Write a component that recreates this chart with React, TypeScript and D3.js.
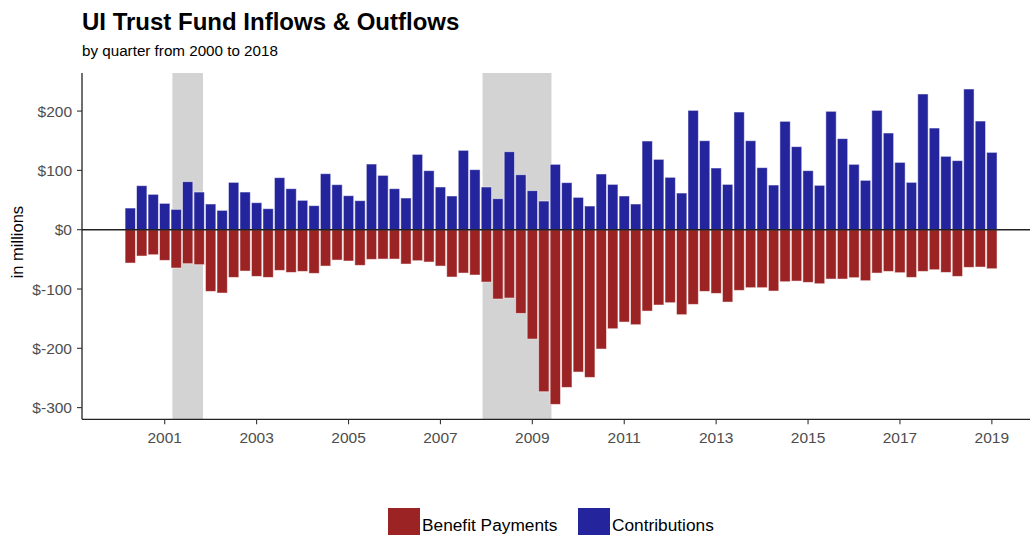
import React from "react";
import * as d3 from "d3";

const startYear = 2000;
const endYear = 2018;

const contributions = [
  36.5, 74.2, 59.6, 44.4, 34.3, 81, 63.5, 43.3, 32.6, 79.8, 63.5, 45.5, 35.4, 87.7, 69.1, 49.5,
  40.5, 94.4, 75.9, 57.3, 48.9, 110.7, 91.6, 69.1, 53.4, 127, 99.5, 72, 56.8, 133.8, 101.2, 72,
  52.3, 131.5, 92.7, 65.8, 48.3, 110.2, 79.3, 54.5, 39.9, 93.9, 76.4, 56.8, 43.3, 149.5, 118.6, 88.3,
  61.8, 201.2, 150, 104, 76.4, 198.4, 150, 104.6, 75.3, 182.7, 140, 99.5, 74.8, 199.6, 153.5, 110.2,
  83.2, 201.2, 163, 113.5, 79.8, 228.8, 171.4, 123.7, 116.4, 237.2, 183.2, 130.4,
];

const benefitPayments = [
  -56.2, -44.4, -42.2, -51.7, -64.6, -57.3, -59, -104, -106.8, -80.4, -69.7, -78.7, -80.4, -68.6, -72, -70.3,
  -73.6, -61.3, -51.2, -52.8, -60.1, -50, -49.5, -49.5, -57.9, -52.3, -54.5, -61.3, -79.8, -73.1, -76.4, -88.3,
  -116.9, -115.2, -141.1, -184.4, -273.2, -294.5, -265.9, -240, -249, -201.2, -167, -155.7, -160.2, -137.2, -127, -123.1,
  -143.3, -125.9, -104, -107.4, -122, -102.3, -97.8, -97.8, -103.4, -87.7, -86.6, -88.8, -91.1, -83.2, -83.2, -80.9,
  -86, -73.1, -70.3, -72.5, -80.4, -70.3, -67.5, -72, -78.7, -63.5, -63, -65.8,
];

// recessions (decimal years): Mar 2001 - Nov 2001, Dec 2007 - Jun 2009
const recessionStarts = [2001 + 2 / 12, 2007 + 11 / 12];
const recessionEnds = [2001 + 10 / 12, 2009 + 5 / 12];

const xTicks = [2001, 2003, 2005, 2007, 2009, 2011, 2013, 2015, 2017, 2019];
const yTicks = [200, 100, 0, -100, -200, -300];

const legendLabels = ["Benefit Payments", "Contributions"];
const RED = "#9b2324";
const BLUE = "#24249c";

// quarter-end positions
const quarters: number[] = [];
for (let y = startYear; y <= endYear; y++) {
  for (let q = 1; q <= 4; q++) quarters.push(y + q * 0.25);
}

const W = 1031;
const H = 535;
const left = 82;
const right = 1030;
const top = 73;
const bottom = 419.3;

export default function App() {
  const x = d3.scaleLinear().domain([1999.2, 2019.83]).range([left, right]);
  const y = d3.scaleLinear().domain([-319.7, 264.2]).range([bottom, top]);
  const bw = (x(2001.25) - x(2001)) * 0.9;
  const font = "Liberation Sans, Arial, sans-serif";

  return (
    <div style={{ position: "absolute", left: 0, top: 0 }}>
      <svg width={W} height={H} style={{ display: "block", fontFamily: font }}>
        <rect x={0} y={0} width={W} height={H} fill="white" />
        <text x={82} y={29.5} fontSize={24} fontWeight="bold" fill="#000">
          UI Trust Fund Inflows &amp; Outflows
        </text>
        <text x={82} y={56} fontSize={15.2} fill="#000">
          by quarter from 2000 to 2018
        </text>

        {recessionStarts.map((s, i) => (
          <rect
            key={"r" + i}
            x={x(s)}
            y={top}
            width={x(recessionEnds[i]) - x(s)}
            height={bottom - top}
            fill="#d3d3d3"
          />
        ))}

        {contributions.map((v, i) => (
          <rect
            key={"c" + i}
            x={x(quarters[i]) - bw / 2}
            y={y(v)}
            width={bw}
            height={y(0) - y(v)}
            fill={BLUE}
            stroke="white"
            strokeOpacity={0.55}
            strokeWidth={0.9}
          />
        ))}
        {benefitPayments.map((v, i) => (
          <rect
            key={"b" + i}
            x={x(quarters[i]) - bw / 2}
            y={y(0)}
            width={bw}
            height={y(v) - y(0)}
            fill={RED}
            stroke="white"
            strokeOpacity={0.55}
            strokeWidth={0.9}
          />
        ))}

        <line x1={left} x2={right} y1={y(0)} y2={y(0)} stroke="#222" strokeWidth={1.5} />

        {/* axes */}
        <line x1={left} x2={left} y1={top} y2={bottom} stroke="#222" strokeWidth={1.3} />
        <line x1={left} x2={right} y1={bottom} y2={bottom} stroke="#222" strokeWidth={1.3} />

        {yTicks.map((t) => (
          <g key={"yt" + t}>
            <line x1={left - 5} x2={left} y1={y(t)} y2={y(t)} stroke="#333" strokeWidth={1.1} />
            <text
              x={left - 10}
              y={y(t)}
              dy="0.36em"
              textAnchor="end"
              fontSize={15.5}
              fill="#4d4d4d"
            >
              {"$" + String(t)}
            </text>
          </g>
        ))}
        {xTicks.map((t) => (
          <g key={"xt" + t}>
            <line x1={x(t)} x2={x(t)} y1={bottom} y2={bottom + 5} stroke="#333" strokeWidth={1.1} />
            <text x={x(t)} y={443.3} textAnchor="middle" fontSize={15.5} fill="#4d4d4d">
              {t}
            </text>
          </g>
        ))}

        <text
          transform={`translate(23,${(top + bottom) / 2 - 4}) rotate(-90)`}
          textAnchor="middle"
          fontSize={16.5}
          fill="#000"
        >
          in millions
        </text>

        {/* legend */}
        <rect x={388} y={508} width={32} height={32} fill={RED} />
        <text x={422} y={531} fontSize={17.3} fill="#000">
          {legendLabels[0]}
        </text>
        <rect x={578} y={508} width={32} height={32} fill={BLUE} />
        <text x={612} y={531} fontSize={17.3} fill="#000">
          {legendLabels[1]}
        </text>
      </svg>
    </div>
  );
}
